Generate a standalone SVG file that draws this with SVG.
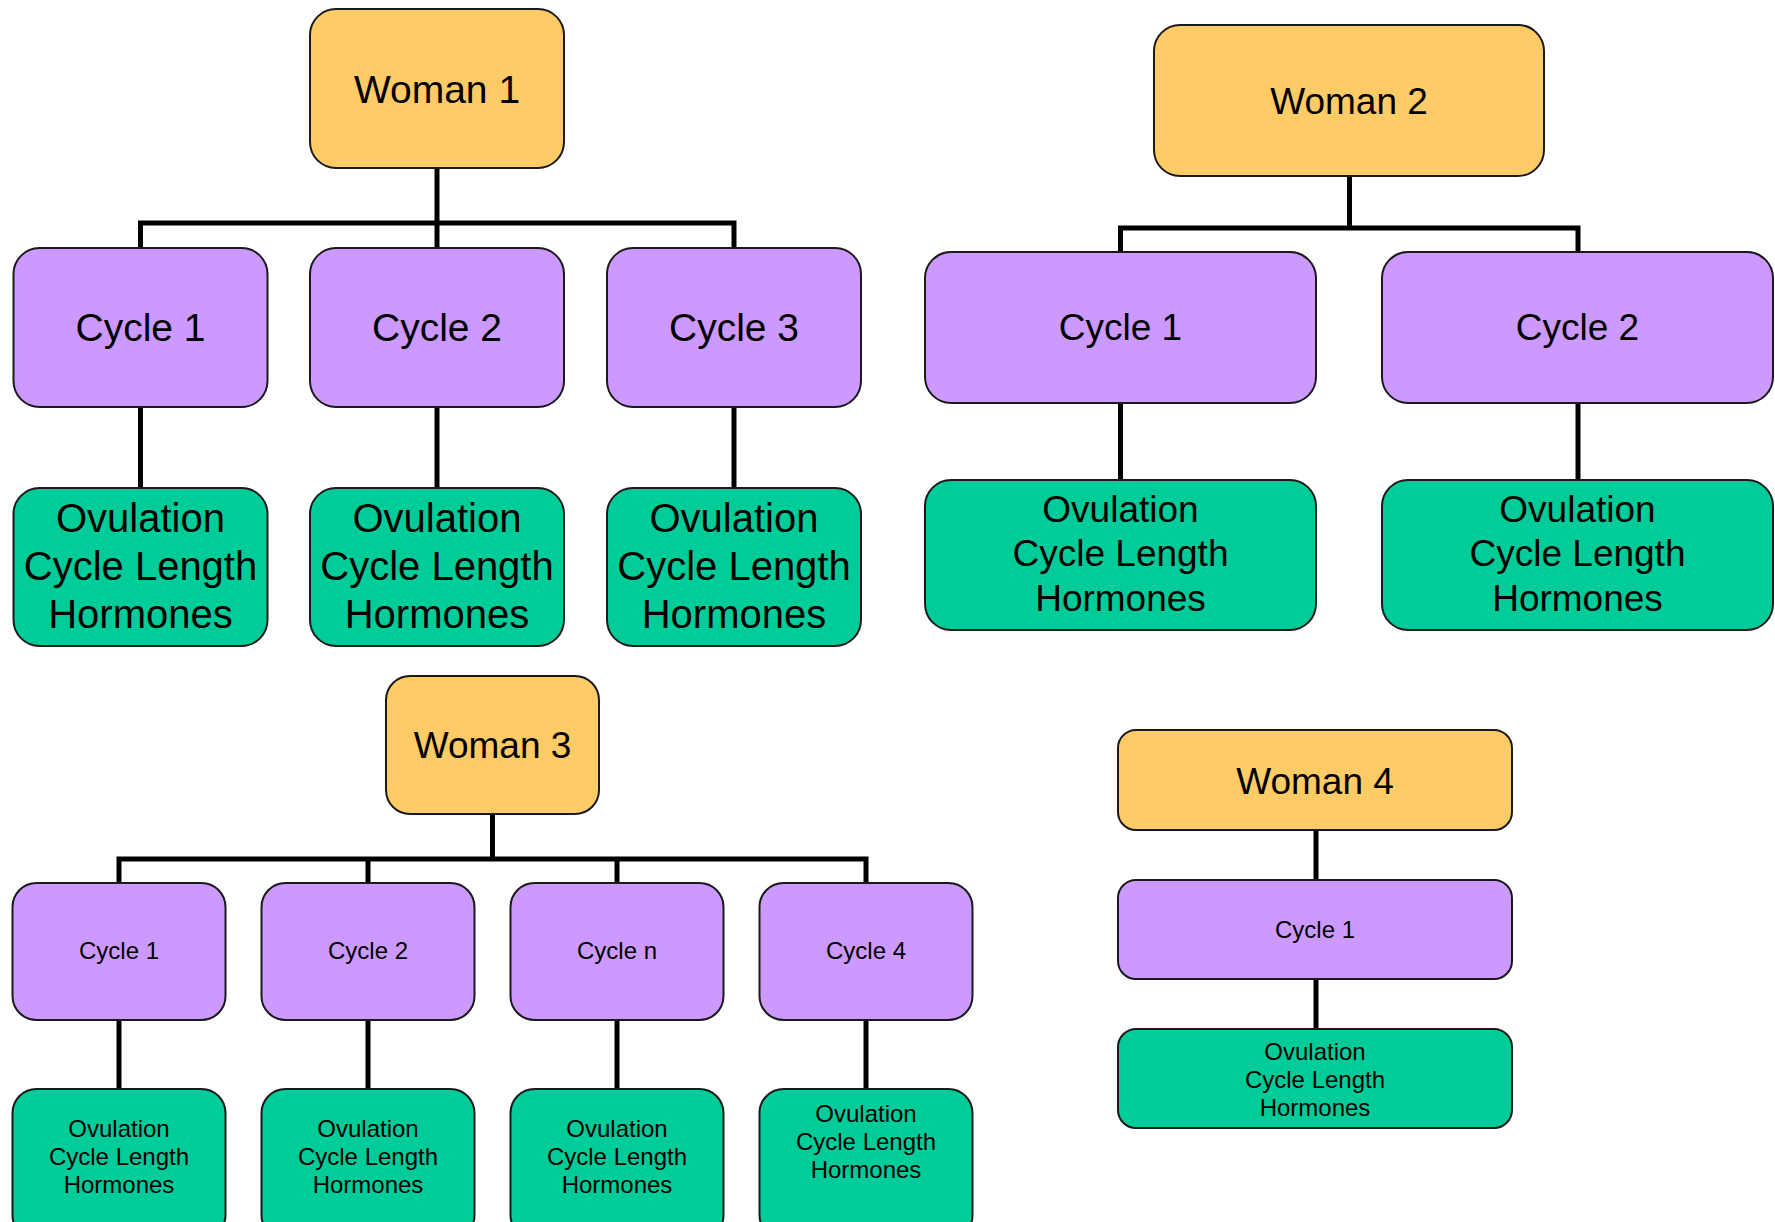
<svg xmlns="http://www.w3.org/2000/svg" width="1775" height="1222" viewBox="0 0 1775 1222">
  <style>
    .woman { fill: #FECB66; stroke: #1a1a1a; stroke-width: 2; }
    .cycle { fill: #CC99FF; stroke: #1a1a1a; stroke-width: 2; }
    .data { fill: #00CC99; stroke: #1a1a1a; stroke-width: 2; }
    text { font-family: "Liberation Sans", Arial, sans-serif; fill: #000; text-anchor: middle; }
    .f40 { font-size: 40px; }
    .f39 { font-size: 39px; }
    .f37 { font-size: 37px; }
    .f24 { font-size: 24px; }
    .wire { fill: none; stroke: #000; stroke-width: 5; stroke-linejoin: miter; stroke-linecap: butt; }
  </style>
  <rect width="1775" height="1222" fill="#fff"/>

  <!-- connectors -->
  <g id="connectors" class="wire">
    <!-- woman 1 tree -->
    <path d="M437,168 V223 M140.5,248 V223 H734 V248 M437,223 V248"/>
    <path d="M140.5,407 V488 M437,407 V488 M734,407 V488"/>
    <!-- woman 2 tree -->
    <path d="M1349.5,176 V228 M1120.5,252 V228 H1578 V252"/>
    <path d="M1120.5,403 V480 M1578,403 V480"/>
    <!-- woman 3 tree -->
    <path d="M492.5,814 V859 M119,883 V859 H866 V883 M368,859 V883 M617,859 V883"/>
    <path d="M119,1020 V1089 M368,1020 V1089 M617,1020 V1089 M866,1020 V1089"/>
    <!-- woman 4 chain -->
    <path d="M1316,830 V880 M1316,979 V1029"/>
  </g>

  <!-- woman 1 -->
  <g id="woman1">
    <rect class="woman" x="310" y="9" width="254" height="159" rx="26"/>
    <text class="f39" x="437" y="103">Woman 1</text>
  </g>
  <g id="w1-cycle1">
    <rect class="cycle" x="13.5" y="248" width="254" height="159" rx="26"/>
    <text class="f39" x="140.5" y="341">Cycle 1</text>
  </g>
  <g id="w1-cycle2">
    <rect class="cycle" x="310" y="248" width="254" height="159" rx="26"/>
    <text class="f39" x="437" y="341">Cycle 2</text>
  </g>
  <g id="w1-cycle3">
    <rect class="cycle" x="607" y="248" width="254" height="159" rx="26"/>
    <text class="f39" x="734" y="341">Cycle 3</text>
  </g>
  <g id="w1-data1">
    <rect class="data" x="13.5" y="488" width="254" height="158" rx="26"/>
    <text class="f40" x="140.5" y="532">Ovulation</text>
    <text class="f40" x="140.5" y="580">Cycle Length</text>
    <text class="f40" x="140.5" y="628">Hormones</text>
  </g>
  <g id="w1-data2">
    <rect class="data" x="310" y="488" width="254" height="158" rx="26"/>
    <text class="f40" x="437" y="532">Ovulation</text>
    <text class="f40" x="437" y="580">Cycle Length</text>
    <text class="f40" x="437" y="628">Hormones</text>
  </g>
  <g id="w1-data3">
    <rect class="data" x="607" y="488" width="254" height="158" rx="26"/>
    <text class="f40" x="734" y="532">Ovulation</text>
    <text class="f40" x="734" y="580">Cycle Length</text>
    <text class="f40" x="734" y="628">Hormones</text>
  </g>

  <!-- woman 2 -->
  <g id="woman2">
    <rect class="woman" x="1154" y="25" width="390" height="151" rx="26"/>
    <text class="f37" x="1349" y="114">Woman 2</text>
  </g>
  <g id="w2-cycle1">
    <rect class="cycle" x="925" y="252" width="391" height="151" rx="26"/>
    <text class="f37" x="1120.5" y="340">Cycle 1</text>
  </g>
  <g id="w2-cycle2">
    <rect class="cycle" x="1382" y="252" width="391" height="151" rx="26"/>
    <text class="f37" x="1577.5" y="340">Cycle 2</text>
  </g>
  <g id="w2-data1">
    <rect class="data" x="925" y="480" width="391" height="150" rx="26"/>
    <text class="f37" x="1120.5" y="522">Ovulation</text>
    <text class="f37" x="1120.5" y="566">Cycle Length</text>
    <text class="f37" x="1120.5" y="611">Hormones</text>
  </g>
  <g id="w2-data2">
    <rect class="data" x="1382" y="480" width="391" height="150" rx="26"/>
    <text class="f37" x="1577.5" y="522">Ovulation</text>
    <text class="f37" x="1577.5" y="566">Cycle Length</text>
    <text class="f37" x="1577.5" y="611">Hormones</text>
  </g>

  <!-- woman 3 -->
  <g id="woman3">
    <rect class="woman" x="386" y="676" width="213" height="138" rx="24"/>
    <text class="f37" x="492.5" y="758">Woman 3</text>
  </g>
  <g id="w3-cycle1">
    <rect class="cycle" x="12.5" y="883" width="213" height="137" rx="24"/>
    <text class="f24" x="119" y="959">Cycle 1</text>
  </g>
  <g id="w3-cycle2">
    <rect class="cycle" x="261.5" y="883" width="213" height="137" rx="24"/>
    <text class="f24" x="368" y="959">Cycle 2</text>
  </g>
  <g id="w3-cyclen">
    <rect class="cycle" x="510.5" y="883" width="213" height="137" rx="24"/>
    <text class="f24" x="617" y="959">Cycle n</text>
  </g>
  <g id="w3-cycle4">
    <rect class="cycle" x="759.5" y="883" width="213" height="137" rx="24"/>
    <text class="f24" x="866" y="959">Cycle 4</text>
  </g>
  <g id="w3-data1">
    <rect class="data" x="12.5" y="1089" width="213" height="150" rx="24"/>
    <text class="f24" x="119" y="1137">Ovulation</text>
    <text class="f24" x="119" y="1165">Cycle Length</text>
    <text class="f24" x="119" y="1193">Hormones</text>
  </g>
  <g id="w3-data2">
    <rect class="data" x="261.5" y="1089" width="213" height="150" rx="24"/>
    <text class="f24" x="368" y="1137">Ovulation</text>
    <text class="f24" x="368" y="1165">Cycle Length</text>
    <text class="f24" x="368" y="1193">Hormones</text>
  </g>
  <g id="w3-datan">
    <rect class="data" x="510.5" y="1089" width="213" height="150" rx="24"/>
    <text class="f24" x="617" y="1137">Ovulation</text>
    <text class="f24" x="617" y="1165">Cycle Length</text>
    <text class="f24" x="617" y="1193">Hormones</text>
  </g>
  <g id="w3-data4">
    <rect class="data" x="759.5" y="1089" width="213" height="150" rx="24"/>
    <text class="f24" x="866" y="1122">Ovulation</text>
    <text class="f24" x="866" y="1150">Cycle Length</text>
    <text class="f24" x="866" y="1178">Hormones</text>
  </g>

  <!-- woman 4 -->
  <g id="woman4">
    <rect class="woman" x="1118" y="730" width="394" height="100" rx="18"/>
    <text class="f37" x="1315" y="794">Woman 4</text>
  </g>
  <g id="w4-cycle1">
    <rect class="cycle" x="1118" y="880" width="394" height="99" rx="18"/>
    <text class="f24" x="1315" y="938">Cycle 1</text>
  </g>
  <g id="w4-data1">
    <rect class="data" x="1118" y="1029" width="394" height="99" rx="18"/>
    <text class="f24" x="1315" y="1060">Ovulation</text>
    <text class="f24" x="1315" y="1088">Cycle Length</text>
    <text class="f24" x="1315" y="1116">Hormones</text>
  </g>
</svg>
